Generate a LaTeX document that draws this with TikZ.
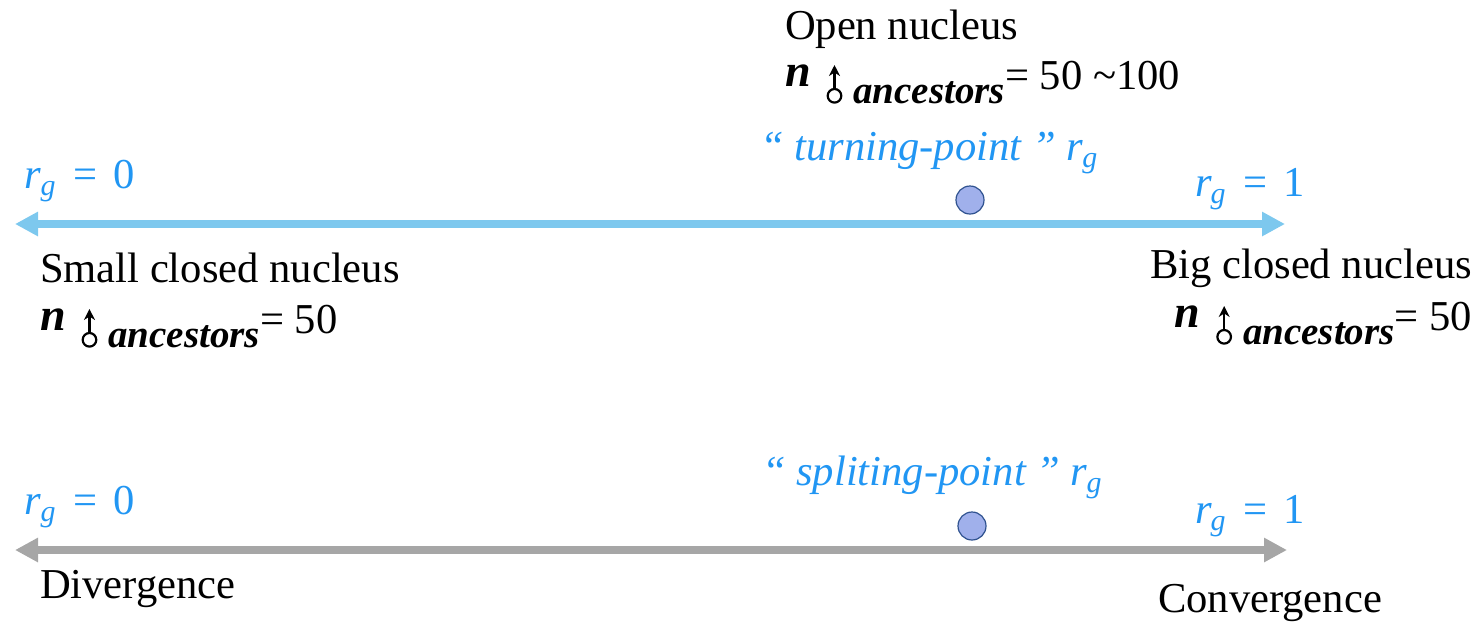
\documentclass[tikz,border=0pt]{standalone}
\usepackage{fontspec}
\setmainfont{Liberation Serif}
\usetikzlibrary{arrows.meta}
\definecolor{tblue}{RGB}{33,150,243}
\definecolor{lblue}{RGB}{125,200,238}
\definecolor{agrey}{RGB}{166,166,166}
\definecolor{dotfill}{RGB}{160,176,235}
\definecolor{dotline}{RGB}{47,82,143}
\newcommand\malesym{\tikz[baseline=0pt,line width=1.1pt]{\draw (0,3.6pt) circle (3.4pt); \draw[-{Stealth[length=5.5pt,width=5.5pt]}] (0,7pt) -- (0,19pt);}}
\newcommand\nanc{\raisebox{1.5pt}{\fontsize{23}{24}\selectfont\textbf{\textit{n}}}\hspace{8pt}\raisebox{-7pt}{\malesym\hspace{5.5pt}\fontsize{19.5}{19}\selectfont\textbf{\textit{ancestors}}}}
\newcommand\rgsym{\textit{r}\kern-0.5pt\raisebox{-3.5pt}{\fontsize{15}{15}\selectfont\textit{g}}}
\newcommand\rgeq[1]{\rgsym\hspace{9pt}=\hspace{8pt}#1}
\tikzset{
  txt/.style={inner sep=0pt,outer sep=0pt,font=\fontsize{21.3}{24}\selectfont},
  btxt/.style={txt,text=tblue},
  bluearrow/.style={draw=lblue,line width=4pt,{Triangle[length=11.5pt,width=11.5pt]}-{Triangle[length=11.5pt,width=11.5pt]}},
  greyarrow/.style={draw=agrey,line width=3.6pt,{Triangle[length=11.5pt,width=11.5pt]}-{Triangle[length=11.5pt,width=11.5pt]}},
  dot/.style={circle,draw=dotline,fill=dotfill,line width=0.6pt,minimum size=14pt,inner sep=0pt}
}
\begin{document}
\begin{tikzpicture}[x=0.5pt,y=-0.5pt]
\useasboundingbox (0,0) rectangle (1481,623);
% upper scale
\coordinate (a1l) at (15,224);
\coordinate (a1r) at (1285,224);
\draw[bluearrow] (a1l) -- (a1r);
\node[dot] (tp) at (970,200) {};
\node[btxt,anchor=base west] (r0a) at (25,188) {\rgeq{0}};
\node[btxt,anchor=base west] (r1a) at (1195,196) {\rgeq{1}};
\node[btxt,anchor=base west] (tpl) at (760,160) {\textit{\textquotedblleft\ turning-point \textquotedblright}\ \rgsym};
\node[txt,anchor=base west] (open) at (785,39) {Open nucleus};
\node[txt,anchor=base west] (openn) at (785,89) {\nanc= 50 \textasciitilde100};
\node[txt,anchor=base west] (small) at (40,282) {Small closed nucleus};
\node[txt,anchor=base west] (smalln) at (40,333) {\nanc= 50};
\node[txt,anchor=base east] (big) at (1472,278) {Big closed nucleus};
\node[txt,anchor=base east] (bign) at (1472,330) {\nanc= 50};
% lower scale
\coordinate (a2l) at (15,550);
\coordinate (a2r) at (1287,550);
\draw[greyarrow] (a2l) -- (a2r);
\node[dot] (sp) at (972,526) {};
\node[btxt,anchor=base west] (r0b) at (25,514) {\rgeq{0}};
\node[btxt,anchor=base west] (r1b) at (1195,523) {\rgeq{1}};
\node[btxt,anchor=base west] (spl) at (762,485) {\textit{\textquotedblleft\ spliting-point \textquotedblright}\ \rgsym};
\node[txt,anchor=base west] (div) at (40,598) {Divergence};
\node[txt,anchor=base west] (conv) at (1158,612) {Convergence};
\end{tikzpicture}
\end{document}
